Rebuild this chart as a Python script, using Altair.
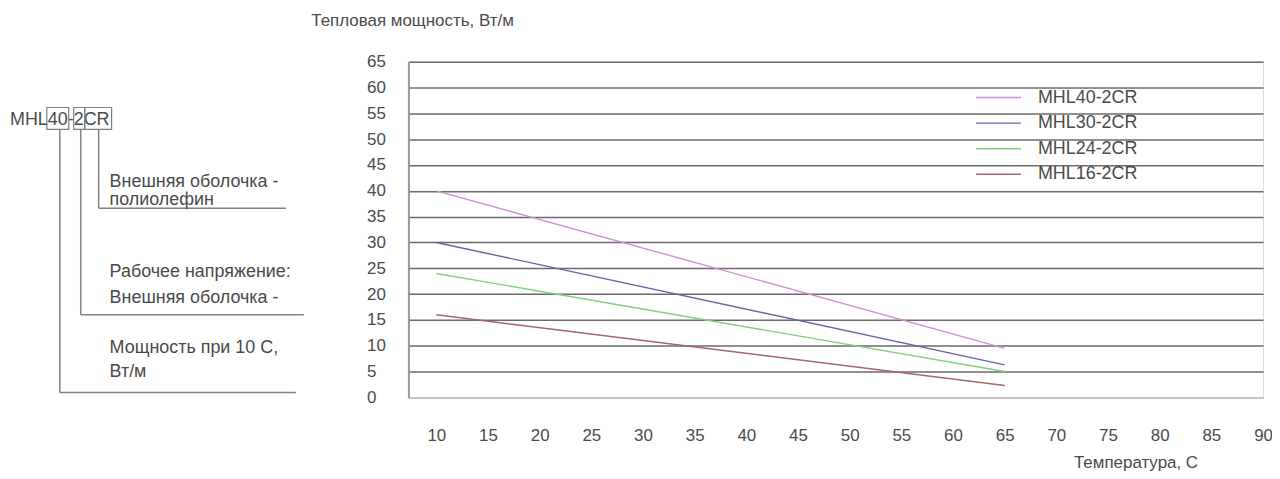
import altair as alt
import pandas as pd

# ---- data ----
series = ["MHL40-2CR", "MHL30-2CR", "MHL24-2CR", "MHL16-2CR"]
colors = ["#d08fd0", "#6464aa", "#80d080", "#aa6470"]
temps = [10, 65]
start_vals = [40, 30, 24, 16]
end_vals = [9.5, 6.3, 5.0, 2.3]
x_ticks = [10, 15, 20, 25, 30, 35, 40, 45, 50, 55, 60, 65, 70, 75, 80, 85, 90]
y_ticks = [0, 5, 10, 15, 20, 25, 30, 35, 40, 45, 50, 55, 60, 65]

y_title = "Тепловая мощность, Вт/м"
x_title = "Температура, C"
code_text = "MHL40-2CR"
ann_texts = ["Внешняя оболочка -", "полиолефин", "Рабочее напряжение:",
             "Внешняя оболочка -", "Мощность при 10 С,", "Вт/м"]

rows = []
for s, a, b in zip(series, start_vals, end_vals):
    rows.append({"s": s, "t": temps[0], "v": a})
    rows.append({"s": s, "t": temps[1], "v": b})
df = pd.DataFrame(rows)
leg = pd.DataFrame({"s": series})

FONT = "Liberation Sans"
TXT = "#4a4a4a"
LINE = "#808080"

color = alt.Color("s:N", scale=alt.Scale(domain=series, range=colors), legend=None)

lines = alt.Chart(df).mark_line(strokeWidth=1.4).encode(
    x=alt.X("t:Q", scale=alt.Scale(domain=[7.3, 90], nice=False, zero=False),
            axis=alt.Axis(values=x_ticks, grid=False, ticks=False, labelPadding=30,
                          labelFontSize=17, labelColor=TXT, labelFont=FONT,
                          domainColor="#c8c8c8", domainWidth=2,
                          title=x_title, titleFont=FONT, titleFontSize=17,
                          titleFontWeight="normal", titleColor=TXT,
                          titleX=730, titleY=65, titleAlign="center",
                          titleBaseline="middle", labelFlush=False)),
    y=alt.Y("v:Q", scale=alt.Scale(domain=[0, 65], nice=False),
            axis=alt.Axis(values=y_ticks, grid=True, gridColor="#6a6a6a", gridWidth=1.5,
                          ticks=False, labelPadding=42, labelAlign="left",
                          labelFontSize=17, labelColor=TXT, labelFont=FONT,
                          domainColor="#9a9a9a", domainWidth=2,
                          title=y_title, titleFont=FONT, titleFontSize=17,
                          titleFontWeight="normal", titleColor=TXT,
                          titleAngle=0, titleAlign="left", titleBaseline="middle",
                          titleX=-98, titleY=-41)),
    color=color,
    detail="s:N",
)

ly = alt.Y("s:N", scale=alt.Scale(type="point", domain=series, range=[36, 113], padding=0),
           axis=None)
leg_rules = alt.Chart(leg).mark_rule(strokeWidth=1.4).encode(
    x=alt.value(570), x2=alt.value(615), y=ly, color=color)
leg_text = alt.Chart(leg).mark_text(align="left", baseline="middle", fontSize=18,
                                    font=FONT, color=TXT).encode(
    x=alt.value(632), y=ly, text="s:N")

base = alt.Chart(pd.DataFrame({"a": [0]}))

def seg(x1, y1, x2, y2):
    return base.mark_rule(color=LINE, strokeWidth=1.5).encode(
        x=alt.value(x1), y=alt.value(y1), x2=alt.value(x2), y2=alt.value(y2))

def box(x1, y1, x2, y2):
    return base.mark_rect(fillOpacity=0, stroke=LINE, strokeWidth=1.2).encode(
        x=alt.value(x1), y=alt.value(y1), x2=alt.value(x2), y2=alt.value(y2))

def txt(x, y, t, size=18):
    return base.mark_text(align="left", baseline="middle", fontSize=size,
                          font=FONT, color=TXT).encode(
        x=alt.value(x), y=alt.value(y), text=alt.value(t))

ann = [
    txt(-400, 59, code_text, 18),
    box(-363, 46, -341, 68), box(-336, 46, -325, 68), box(-325, 46, -298, 68),
    seg(-350, 68, -350, 332), seg(-350, 332, -113, 332),
    seg(-329, 68, -329, 254), seg(-329, 254, -105, 254),
    seg(-311, 68, -311, 147), seg(-311, 147, -123, 147),
    txt(-300, 121, ann_texts[0]), txt(-300, 139, ann_texts[1]),
    txt(-300, 211, ann_texts[2]), txt(-300, 237, ann_texts[3]),
    txt(-300, 287, ann_texts[4]), txt(-300, 312, ann_texts[5]),
]

chart = alt.layer(lines, leg_rules, leg_text, *ann).resolve_scale(
    y="independent"
).properties(
    width=858, height=337,
    autosize=alt.AutoSizeParams(type="none"),
    padding={"left": 402, "top": 53, "right": 9, "bottom": 75},
).configure_view(stroke="#9a9a9a", strokeWidth=1.5).configure(background="white")

chart.save("out.html", embed_options={"renderer": "svg", "actions": False})
